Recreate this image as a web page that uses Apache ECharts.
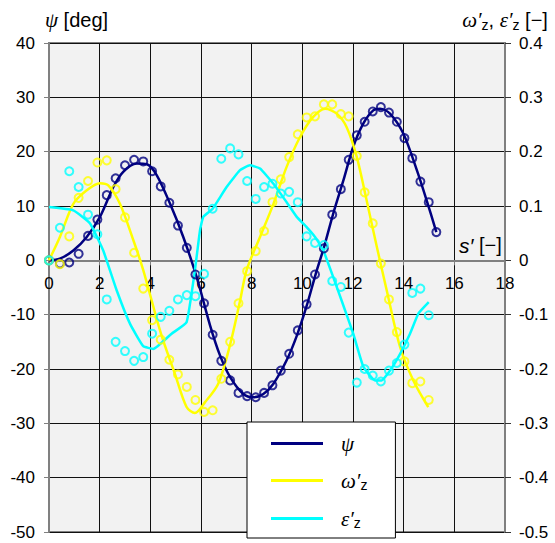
<!DOCTYPE html>
<html>
<head>
<meta charset="utf-8">
<script src="https://cdn.jsdelivr.net/npm/echarts@6/dist/echarts.min.js"></script>
<style>html,body{margin:0;padding:0;background:#fff}#c{width:555px;height:543px}</style>
</head>
<body>
<div id="c"></div>
<script>
// sample positions s'
const sx = [0,0.43,0.80,1.17,1.54,1.91,2.28,2.63,3.00,3.36,3.72,4.07,4.41,4.75,5.09,5.44,5.78,6.12,6.46,6.80,7.15,7.48,7.82,8.16,8.49,8.82,9.15,9.48,9.82,10.17,10.50,10.85,11.18,11.52,11.83,12.15,12.46,12.78,13.10,13.42,13.73,14.03,14.34,14.66,14.99,15.29];
// measured psi [deg]
const psiVals = [0,-0.6,-0.4,1.2,4.5,7.5,12.0,15.1,17.5,18.5,18.2,16.4,13.6,10.6,6.4,2.3,-2.6,-7.9,-13.7,-18.5,-22.1,-24.4,-25.0,-25.2,-24.4,-23.0,-20.3,-17.2,-12.9,-8.1,-2.6,2.2,8.4,13.1,18.5,23.0,25.5,27.4,28.2,27.2,25.5,22.5,18.8,14.5,10.7,5.2];
// measured omega'z [-]
const omegaVals = [0,-0.007,0.044,0.115,0.146,0.180,0.184,0.131,0.079,0.014,-0.052,-0.110,-0.146,-0.183,-0.210,-0.233,-0.257,-0.279,-0.276,-0.218,-0.150,-0.079,-0.020,0.017,0.054,0.107,0.149,0.190,0.232,0.263,0.265,0.287,0.287,0.269,0.265,0.192,0.125,0.068,-0.006,-0.072,-0.132,-0.186,-0.226,-0.223,-0.257];
// measured eps'z [-]
const epsVals = [0,0.060,0.164,0.135,0.084,0.048,-0.072,-0.150,-0.167,-0.185,-0.178,-0.135,-0.104,-0.093,-0.072,-0.064,-0.066,-0.025,0.095,0.187,0.206,0.195,0.146,0.113,0.135,0.141,0.123,0.126,0.107,0.044,0.032,0.028,-0.038,-0.049,-0.133,-0.225,-0.200,-0.212,-0.223,-0.203,-0.189,-0.155,-0.060,-0.052,-0.101];
// fitted curves
const psiFitX = [0,0.43,0.96,1.49,2.01,2.54,2.93,3.46,3.86,4.25,4.78,5.30,5.83,6.36,6.75,7.15,7.67,8.07,8.46,8.86,9.38,9.78,10.17,10.51,10.86,11.22,11.62,12.01,12.41,12.80,13.07,13.46,13.99,14.52,14.91,15.29];
const psiFitY = [0,0.3,1.8,4.3,8.0,13.5,16.3,17.8,17.7,15.7,10.4,4.3,-3.1,-12.0,-17.5,-21.5,-24.6,-25.2,-24.6,-22.7,-18.4,-13.9,-8.4,-2.8,2.5,8.6,14.7,20.9,25.2,27.6,27.9,27.0,23.3,16.6,11.0,5.2];
const omegaFitX = [0,0.43,0.96,1.49,2.01,2.34,2.80,3.33,3.72,4.42,4.97,5.43,5.76,6.16,6.68,7.15,7.54,7.80,8.33,8.86,9.38,9.91,10.43,10.90,11.36,11.75,12.15,12.54,12.94,13.33,13.86,14.38,14.97];
const omegaFitY = [0,0.043,0.104,0.129,0.142,0.138,0.104,0.037,-0.018,-0.135,-0.209,-0.270,-0.281,-0.261,-0.227,-0.155,-0.075,-0.018,0.043,0.104,0.172,0.227,0.264,0.279,0.270,0.245,0.190,0.110,0.025,-0.055,-0.160,-0.221,-0.270];
const epsFitX = [0,0.96,1.62,2.14,2.67,3.20,3.72,4.12,4.84,5.43,5.76,5.96,6.09,6.46,7.01,7.54,7.93,8.33,8.86,9.38,9.78,10.17,10.50,10.83,11.22,11.55,12.01,12.41,12.87,13.13,13.46,13.86,14.25,14.58,14.99];
const epsFitY = [0.098,0.092,0.068,0.018,-0.055,-0.117,-0.158,-0.163,-0.135,-0.114,-0.018,0.055,0.080,0.095,0.135,0.166,0.175,0.169,0.141,0.107,0.080,0.061,0.043,0.018,-0.031,-0.074,-0.135,-0.196,-0.221,-0.221,-0.203,-0.172,-0.135,-0.098,-0.077];
// axis ticks
const xTicks = {min:0, max:18, interval:2};
const yLeftTicks = {min:-50, max:40, interval:10};
const yRightTicks = {min:-0.5, max:0.4, interval:0.1};

const NAVY = '#000080', YEL = '#ffff00', CY = '#00ffff';
const zip = (xs, ys) => ys.map((v,i)=>[xs[i], v]);
const SANS = 'Liberation Sans', SERIF = 'Liberation Serif';
const GRID = {left:49, right:50, top:43, bottom:11};
const plotH = 543 - GRID.top - GRID.bottom;
// x axis sits on psi = 0 (moved up from bottom edge)
const xOffset = -plotH * (0 - yLeftTicks.min) / (yLeftTicks.max - yLeftTicks.min);
const rich = {
  g: {fontFamily: SERIF, fontStyle: 'italic', fontSize: 21, color:'#000', lineHeight: 26},
  si: {fontFamily: SANS, fontStyle: 'italic', fontSize: 21, color:'#000', lineHeight: 26},
  t: {fontFamily: SANS, fontSize: 20, color:'#000', lineHeight: 26},
  s: {fontFamily: SANS, fontSize: 14, color:'#000', lineHeight: 26, padding:[9,0,0,0]}
};
const legendText = {psi:'{g|ψ}', omega:'{g|ω′}{s|z}', eps:'{g|ε′}{s|z}'};

const chart = echarts.init(document.getElementById('c'), null, {renderer:'svg'});
const scatter = (name, xs, ys, color, yi) => ({
  type:'scatter', name: name, yAxisIndex: yi, data: zip(xs, ys),
  symbol:'circle', symbolSize: 8,
  itemStyle:{color:'rgba(0,0,0,0)', borderColor: color, borderWidth: 2},
  silent:true, z: 3
});
const line = (name, xs, ys, color, yi, sm) => ({
  type:'line', name: name, yAxisIndex: yi, data: zip(xs, ys),
  symbol:'none', smooth: sm, lineStyle:{color: color, width: 2.5}, itemStyle:{color: color}, z: 2
});
chart.setOption({
  animation:false,
  grid:Object.assign({show:true, backgroundColor:'#f2f2f2', borderColor:'#808080', borderWidth:2, containLabel:false, outerBoundsMode:'none'}, GRID),
  xAxis:{type:'value', min:xTicks.min, max:xTicks.max, interval:xTicks.interval,
    position:'bottom', offset:xOffset,
    axisLine:{onZero:false, lineStyle:{color:'#808080', width:2}},
    axisTick:{show:true, length:5, lineStyle:{color:'#808080'}},
    axisLabel:{color:'#000', fontFamily:SANS, fontSize:17, margin:15},
    splitLine:{show:true, lineStyle:{color:'#111', width:1}},
    name:"{si|s′}{t| [−]}", nameLocation:'end', nameGap:-46,
    nameTextStyle:{align:'left', verticalAlign:'bottom', padding:[0,0,2,0], rich: rich}
  },
  yAxis:[
    {type:'value', position:'left', min:yLeftTicks.min, max:yLeftTicks.max, interval:yLeftTicks.interval,
     axisLine:{show:true, lineStyle:{color:'#808080', width:2}},
     axisTick:{show:true, length:5, lineStyle:{color:'#808080'}},
     axisLabel:{color:'#000', fontFamily:SANS, fontSize:17, margin:14},
     splitLine:{show:true, lineStyle:{color:'#111', width:1}},
     name:'{g|ψ}{t| [deg]}', nameLocation:'end', nameGap:10,
     nameTextStyle:{align:'left', verticalAlign:'bottom', padding:[0,0,0,-4], rich: rich}
    },
    {type:'value', position:'right', min:yRightTicks.min, max:yRightTicks.max, interval:yRightTicks.interval,
     axisLine:{show:true, lineStyle:{color:'#808080', width:2}},
     axisTick:{show:true, length:6, lineStyle:{color:'#333'}},
     axisLabel:{color:'#000', fontFamily:SANS, fontSize:17, margin:14},
     splitLine:{show:false},
     name:'{g|ω′}{s|z}{t|, }{g|ε′}{s|z}{t| [−]}', nameLocation:'end', nameGap:10,
     nameTextStyle:{align:'center', verticalAlign:'bottom', rich: rich}
    }
  ],
  legend:{
    show:true, orient:'vertical', left:247, top:422,
    data:['psi','omega','eps'], icon:'rect', itemWidth:52, itemHeight:3, itemGap:15,
    backgroundColor:'#fff', borderColor:'#000', borderWidth:1, borderRadius:0,
    padding:[11,28,8,24],
    formatter: n => legendText[n],
    textStyle:{padding:[0,0,0,13], rich: rich},
    selectedMode:false
  },
  series:[
    line('psi', psiFitX, psiFitY, NAVY, 0, 0.3),
    line('omega', omegaFitX, omegaFitY, YEL, 1, 0.3),
    line('eps', epsFitX, epsFitY, CY, 1, 0.12),
    scatter('psi pts', sx, psiVals, NAVY, 0),
    scatter('omega pts', sx.slice(0, omegaVals.length), omegaVals, YEL, 1),
    scatter('eps pts', sx.slice(0, epsVals.length), epsVals, CY, 1)
  ]
});
</script>
</body>
</html>
